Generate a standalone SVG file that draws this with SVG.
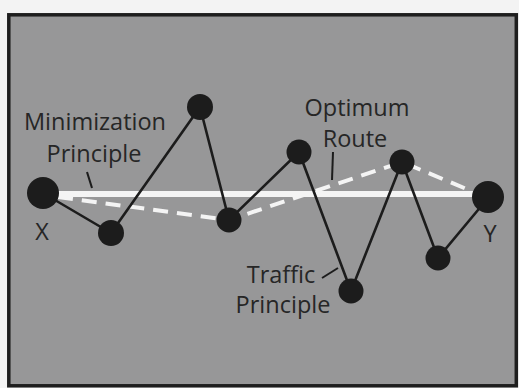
<svg xmlns="http://www.w3.org/2000/svg" width="519" height="388" viewBox="0 0 519 388">
<defs>
<style>
.bg{fill:#f3f3f3}
.panel{fill:#979798;stroke:#1e1e1e;stroke-width:3.5}
.edge{fill:none;stroke:#1c1c1c;stroke-width:2.6;stroke-linejoin:round}
.min{fill:none;stroke:#f4f4f4;stroke-width:6}
.opt{fill:none;stroke:#f4f4f4;stroke-width:4;stroke-dasharray:15 9}
.lead{stroke:#1c1c1c;stroke-width:2}
.node{fill:#1c1c1c}
.lbl{font-family:"Open Sans","Noto Sans","Liberation Sans",sans-serif;font-size:23.5px;fill:#262626;text-anchor:middle}
</style>
</defs>
<rect class="bg" x="0" y="0" width="519" height="388"/>
<rect class="panel" x="8.8" y="14.8" width="507.5" height="371"/>
<g id="connectors">
<line class="min" x1="43" y1="194" x2="488" y2="194"/>
<polyline class="opt" points="58,197 229,220 402,162 488,198"/>
<polyline class="edge" points="43,193 111,233 200,107 229,220 299,152 351,291 402,162 438,258 488,198"/>
<line class="lead" x1="87" y1="172" x2="92" y2="188"/>
<line class="lead" x1="333" y1="152" x2="332" y2="180"/>
<line class="lead" x1="322" y1="278" x2="338" y2="268"/>
</g>
<g id="X"><circle class="node" cx="43" cy="193" r="16"/><text class="lbl" x="42" y="240">X</text></g>
<g id="n1"><circle class="node" cx="111" cy="233" r="13"/></g>
<g id="n2"><circle class="node" cx="200" cy="107" r="13"/></g>
<g id="n3"><circle class="node" cx="229" cy="220" r="12.5"/></g>
<g id="n4"><circle class="node" cx="299" cy="152" r="12.5"/></g>
<g id="n5"><circle class="node" cx="351" cy="291" r="12.5"/></g>
<g id="n6"><circle class="node" cx="402" cy="162" r="12.5"/></g>
<g id="n7"><circle class="node" cx="438" cy="258" r="12.5"/></g>
<g id="Y"><circle class="node" cx="488" cy="197" r="16"/><text class="lbl" x="490" y="242">Y</text></g>
<g id="label-min"><text class="lbl" x="95" y="130">Minimization</text><text class="lbl" x="94" y="162">Principle</text></g>
<g id="label-opt"><text class="lbl" x="357" y="116">Optimum</text><text class="lbl" x="355" y="147">Route</text></g>
<g id="label-traffic"><text class="lbl" x="281" y="283">Traffic</text><text class="lbl" x="283" y="313">Principle</text></g>
</svg>
